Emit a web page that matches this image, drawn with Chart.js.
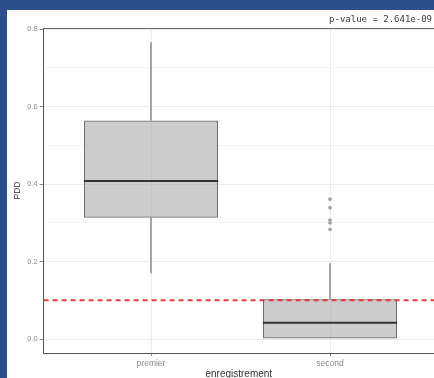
<!DOCTYPE html>
<html>
<head>
<meta charset="utf-8">
<script src="https://cdn.jsdelivr.net/npm/chart.js@4.4.1/dist/chart.umd.min.js"></script>
<style>
    body { margin: 0; background: #2c4f8c; overflow: hidden; width: 434px; height: 378px; }
    #panel { position: absolute; left: 7px; top: 10px; width: 427px; height: 368px; background: #fff; overflow: hidden; }
</style>
</head>
<body>
<div id="panel"><canvas id="pdd-chart" width="427" height="372"></canvas></div>
<script>
// data
const categories = ["premier", "second"];
const whiskerLow = [0.170, 0.000];
const q1 = [0.313, 0.000];
const median = [0.408, 0.042];
const q3 = [0.564, 0.103];
const whiskerHigh = [0.766, 0.196];
const outliers = [[], [0.361, 0.339, 0.307, 0.300, 0.283]];
const threshold = 0.1;
const yMajorTicks = [0, 0.2, 0.4, 0.6, 0.8];
const yMinorTicks = [0.1, 0.3, 0.5, 0.7];
const pValueLabel = "p-value = 2.641e-09";

// visible range of the plot (ggplot expansion, cut at the right edge)
const X_MIN = 0.4, X_MAX = 2.581;
const Y_MIN = -0.036, Y_MAX = 0.803;
const BOX_WIDTH = 0.75;

// building datasets from the arrays
let datasets = [];

// dashed reference line, on top
datasets.push({
    type: "line",
    data: [{ x: X_MIN, y: threshold }, { x: X_MAX, y: threshold }],
    borderColor: "rgba(222,45,38,0.9)",
    borderWidth: 2,
    borderDash: [5, 4],
    pointRadius: 0,
    order: 0,
});

// medians
categories.forEach((c, i) => {
    datasets.push({
        type: "line",
        data: [{ x: i + 1 - BOX_WIDTH / 2, y: median[i] }, { x: i + 1 + BOX_WIDTH / 2, y: median[i] }],
        borderColor: "#333",
        borderWidth: 2,
        pointRadius: 0,
        order: 1,
    });
});

// outliers
datasets.push({
    type: "scatter",
    data: outliers.flatMap((arr, i) => arr.map(v => ({ x: i + 1, y: v }))),
    backgroundColor: "#a0a0a0",
    borderColor: "#a0a0a0",
    pointRadius: 1.4,
    order: 1,
});

// boxes (floating bars from q1 to q3)
datasets.push({
    type: "bar",
    data: categories.map((c, i) => ({ x: i + 1, y: [q1[i], q3[i]] })),
    backgroundColor: "rgba(170,170,170,0.6)",
    borderColor: "#707070",
    borderWidth: 1.2,
    borderSkipped: false,
    barPercentage: BOX_WIDTH,
    categoryPercentage: 1,
    order: 3,
});

// whiskers
categories.forEach((c, i) => {
    [[q3[i], whiskerHigh[i]], [whiskerLow[i], q1[i]]].forEach(seg => {
        datasets.push({
            type: "line",
            data: [{ x: i + 1, y: seg[0] }, { x: i + 1, y: seg[1] }],
            borderColor: "#a3a3a3",
            borderWidth: 2,
            pointRadius: 0,
            order: 4,
        });
    });
});

// top border of the panel and the p-value note above it
const panelDecor = {
    id: "panelDecor",
    beforeDatasetsDraw(chart) {
        const { ctx, chartArea } = chart;
        ctx.save();
        ctx.strokeStyle = "#666";
        ctx.lineWidth = 1;
        ctx.beginPath();
        ctx.moveTo(chartArea.left, chartArea.top + 0.5);
        ctx.lineTo(chart.width, chartArea.top + 0.5);
        ctx.stroke();
        ctx.fillStyle = "#3a3a3a";
        ctx.font = "9px 'DejaVu Sans Mono'";
        ctx.textAlign = "right";
        ctx.textBaseline = "middle";
        ctx.fillText(pValueLabel, chart.width - 2, chartArea.top - 8);
        ctx.restore();
    },
};

const isMajor = v => yMajorTicks.some(t => Math.abs(t - v) < 1e-9);

let ctx = document.getElementById("pdd-chart").getContext("2d");
new Chart(ctx, {
    type: "bar",
    data: { datasets: datasets },
    plugins: [panelDecor],
    options: {
        responsive: false,
        animation: false,
        layout: { autoPadding: false, padding: { left: 0, right: 0, top: 18, bottom: 0 } },
        plugins: {
            legend: { display: false },
            tooltip: { enabled: false },
        },
        scales: {
            x: {
                type: "linear",
                min: X_MIN,
                max: X_MAX,
                offset: false,
                afterBuildTicks: scale => { scale.ticks = categories.map((c, i) => ({ value: i + 1 })); },
                afterFit: scale => { scale.height = 29; },
                ticks: {
                    callback: v => categories[v - 1],
                    color: "#8a8a8a",
                    font: { family: "Liberation Sans", size: 8.5 },
                    padding: 2.5,
                    maxRotation: 0,
                    autoSkip: false,
                },
                grid: { offset: false, color: "#ebebeb", lineWidth: 1, tickLength: 3, tickColor: "#888" },
                border: { display: true, color: "#555", width: 1 },
                title: {
                    display: true,
                    text: "enregistrement",
                    color: "#333",
                    font: { family: "Liberation Sans", size: 10 },
                    padding: { top: 0, bottom: 2 },
                },
            },
            y: {
                type: "linear",
                min: Y_MIN,
                max: Y_MAX,
                afterBuildTicks: scale => {
                    scale.ticks = yMajorTicks.concat(yMinorTicks).sort((a, b) => a - b).map(v => ({ value: v }));
                },
                afterFit: scale => { scale.width = 36.6; },
                ticks: {
                    callback: v => (isMajor(v) ? v.toFixed(1) : ""),
                    color: "#8a8a8a",
                    font: { family: "Liberation Sans", size: 7.5 },
                    padding: 2,
                    autoSkip: false,
                },
                grid: {
                    color: c => (isMajor(c.tick.value) ? "#ebebeb" : "#f5f5f5"),
                    tickColor: c => (isMajor(c.tick.value) ? "#888" : "rgba(0,0,0,0)"),
                    tickLength: 4,
                    lineWidth: 1,
                },
                border: { display: true, color: "#555", width: 1 },
                title: {
                    display: true,
                    text: "PDD",
                    color: "#333",
                    font: { family: "Liberation Sans", size: 8.5 },
                    padding: { top: 5.5, bottom: 0 },
                },
            },
        },
    },
});
</script>
</body>
</html>
